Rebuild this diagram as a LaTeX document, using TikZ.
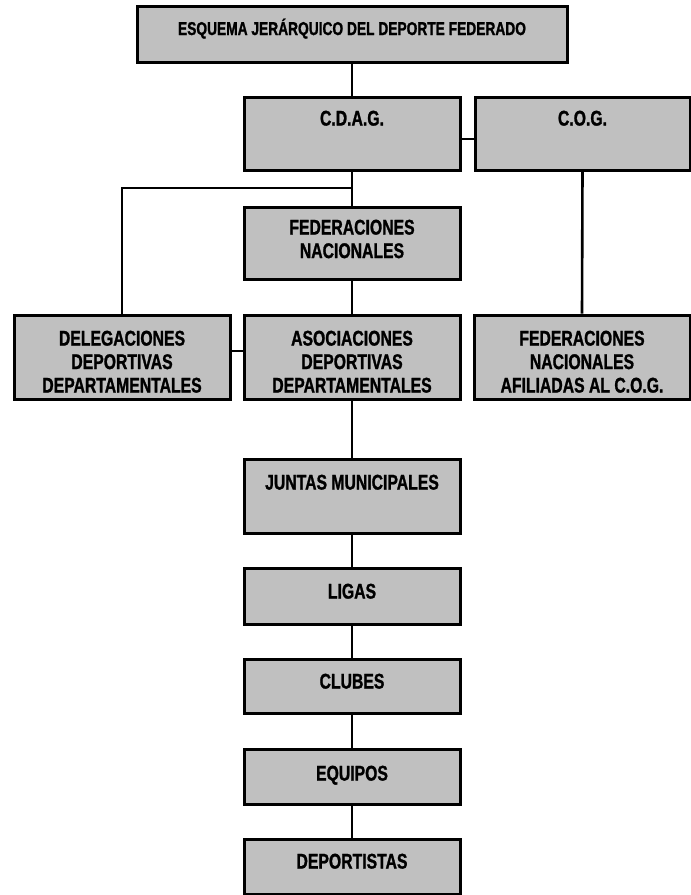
\documentclass[tikz,border=0pt]{standalone}
\usepackage{fontspec}
\newfontfamily\boxfont{Liberation Sans}[FakeStretch=0.74, FakeBold=1.2]
\definecolor{boxgray}{RGB}{192,192,192}
\tikzset{
  box/.style={draw=black, line width=3pt, fill=boxgray, rectangle, inner sep=0pt},
  lbl/.style={anchor=north, inner sep=0pt, align=center, text=black,
    font={\boxfont\bfseries\fontsize{21.3}{23.5}\selectfont}},
  ttl/.style={anchor=base, inner sep=0pt, text=black,
    font={\boxfont\bfseries\fontsize{18.6}{21}\selectfont}},
  link/.style={draw=black, line width=2.6pt}
}
\begin{document}
\begin{tikzpicture}[x=1pt,y=-1pt]
\useasboundingbox (0,0) rectangle (691,895);
% boxes
\node[box, minimum width=430, minimum height=56] (title) at (352,34) {};
\node[box, minimum width=216, minimum height=73] (cdag) at (352,133.5) {};
\node[box, minimum width=215, minimum height=73] (cog) at (582.5,133.5) {};
\node[box, minimum width=216, minimum height=72] (fednac) at (352,243) {};
\node[box, minimum width=216, minimum height=84] (deleg) at (122,357) {};
\node[box, minimum width=216, minimum height=84] (asoc) at (352,357) {};
\node[box, minimum width=216, minimum height=84] (fedafil) at (582,357) {};
\node[box, minimum width=216, minimum height=74] (juntas) at (352,496) {};
\node[box, minimum width=216, minimum height=56] (ligas) at (352,596) {};
\node[box, minimum width=216, minimum height=54] (clubes) at (352,686) {};
\node[box, minimum width=216, minimum height=55] (equipos) at (352,776.5) {};
\node[box, minimum width=216, minimum height=55] (deport) at (352,866.5) {};
% texts
\node[ttl] (title-t) at ([yshift=-30.5]title.north) {ESQUEMA JERÁRQUICO DEL DEPORTE FEDERADO};
\node[lbl] (cdag-t) at ([yshift=-15]cdag.north) {C.D.A.G.};
\node[lbl] (cog-t) at ([yshift=-15]cog.north) {C.O.G.};
\node[lbl] (fednac-t) at ([yshift=-14]fednac.north) {FEDERACIONES\\NACIONALES};
\node[lbl] (deleg-t) at ([yshift=-17]deleg.north) {DELEGACIONES\\DEPORTIVAS\\DEPARTAMENTALES};
\node[lbl] (asoc-t) at ([yshift=-17]asoc.north) {ASOCIACIONES\\DEPORTIVAS\\DEPARTAMENTALES};
\node[lbl] (fedafil-t) at ([yshift=-17]fedafil.north) {FEDERACIONES\\NACIONALES\\AFILIADAS AL C.O.G.};
\node[lbl] (juntas-t) at ([yshift=-17]juntas.north) {JUNTAS MUNICIPALES};
\node[lbl] (ligas-t) at ([yshift=-17]ligas.north) {LIGAS};
\node[lbl] (clubes-t) at ([yshift=-16]clubes.north) {CLUBES};
\node[lbl] (equipos-t) at ([yshift=-18]equipos.north) {EQUIPOS};
\node[lbl] (deport-t) at ([yshift=-16]deport.north) {DEPORTISTAS};
% connectors
\coordinate (junc) at (352,188);
\draw[link] (title.south) -- (cdag.north);
\draw[link] ([yshift=-5.5]cdag.east) -- ([yshift=-5.5]cog.west);
\draw[link] (cdag.south) -- (fednac.north);
\draw[link] (junc) -| (deleg.north);
\draw[link] (cog.south) -- (fedafil.north);
\draw[link] (fednac.south) -- (asoc.north);
\draw[link] ([yshift=6]deleg.east) -- ([yshift=6]asoc.west);
\draw[link] (asoc.south) -- (juntas.north);
\draw[link] (juntas.south) -- (ligas.north);
\draw[link] (ligas.south) -- (clubes.north);
\draw[link] (clubes.south) -- (equipos.north);
\draw[link] (equipos.south) -- (deport.north);
\end{tikzpicture}
\end{document}
